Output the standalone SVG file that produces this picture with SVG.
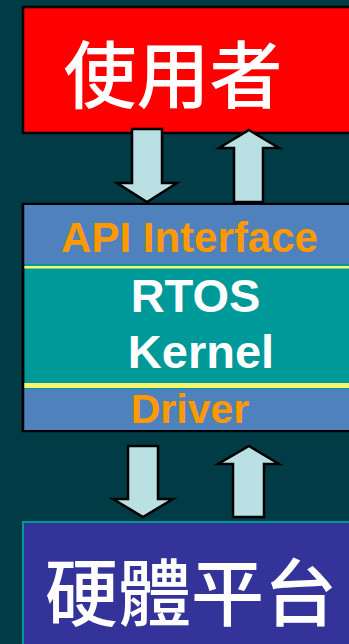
<svg xmlns="http://www.w3.org/2000/svg" width="349" height="644" viewBox="0 0 349 644">
<style>
.arrow{fill:#B9E0E2;stroke:#000;stroke-width:2.5;stroke-linejoin:miter}
.cjk{font-family:"Noto Sans CJK TC","Noto Sans CJK SC",sans-serif;font-size:73px;font-weight:500;fill:#fff;text-anchor:middle}
.lbl{font-family:"Liberation Sans",Arial,sans-serif;font-weight:bold;text-anchor:middle}
</style>
<rect x="0" y="0" width="349" height="644" fill="#013B46"/>
<g id="user">
<rect x="23" y="7" width="340" height="126" fill="#FF0000" stroke="#000" stroke-width="2.5"/>
<text class="cjk" x="173" y="102">使用者</text>
</g>
<g id="rtos">
<rect x="23" y="204" width="340" height="227" fill="#009999" stroke="#000" stroke-width="2.5"/>
<rect x="24" y="205" width="330" height="59" fill="#4F81BD"/>
<rect x="24" y="389" width="330" height="41" fill="#4F81BD"/>
<rect x="23" y="266" width="330" height="2.5" fill="#F5F56E"/>
<rect x="23" y="383" width="330" height="5" fill="#F5F56E"/>
<line x1="23" y1="204" x2="23" y2="431" stroke="#000" stroke-width="2.5"/>
<text class="lbl" x="189.5" y="252" font-size="42" fill="#FF9900">API Interface</text>
<text class="lbl" x="195.5" y="312" font-size="47" fill="#FFFFFF">RTOS</text>
<text class="lbl" x="201" y="368" font-size="47" fill="#FFFFFF">Kernel</text>
<text class="lbl" x="190" y="423" font-size="41" fill="#FF9900">Driver</text>
</g>
<g id="hardware">
<rect x="23" y="522" width="340" height="130" fill="#333399" stroke="#009999" stroke-width="2"/>
<text class="cjk" x="191" y="620">硬體平台</text>
</g>
<g id="connectors">
<path class="arrow" d="M132,129 L162,129 L162,183 L177,183 L147,202 L117,183 L132,183 Z"/>
<path class="arrow" d="M249,130 L279,148 L263,148 L263,202 L234,202 L234,148 L219,148 Z"/>
<path class="arrow" d="M128,446 L158,446 L158,499 L173,499 L143,517 L113,499 L128,499 Z"/>
<path class="arrow" d="M249,446 L279,464 L264,464 L264,517 L233,517 L233,464 L218,464 Z"/>
</g>
</svg>
